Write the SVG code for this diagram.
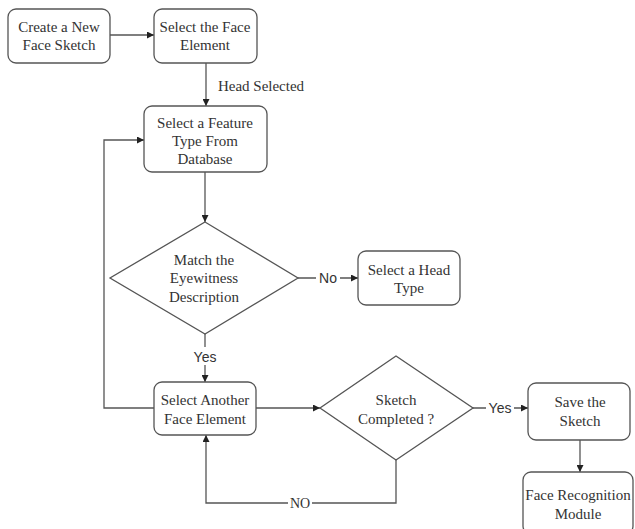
<svg xmlns="http://www.w3.org/2000/svg" width="635" height="529" viewBox="0 0 635 529">
<style>
.box{fill:#fff;stroke:#555;stroke-width:1.3}
.t{font-size:15px;fill:#333;text-anchor:middle}
.s{font-size:14px;fill:#333;text-anchor:middle}
.c{fill:none;stroke:#555;stroke-width:1.3}
.lb{fill:#fff}
</style>
<defs>
<marker id="ah" viewBox="0 0 10 10" refX="10" refY="5" markerWidth="7" markerHeight="7" orient="auto" markerUnits="userSpaceOnUse">
<path d="M0,0 L10,5 L0,10 z" fill="#222"/>
</marker>
</defs>
<rect width="635" height="529" fill="#fff"/>
<g id="connectors">
<path class="c" d="M110,35 H154" marker-end="url(#ah)"/>
<path class="c" d="M206,63 V106" marker-end="url(#ah)"/>
<path class="c" d="M205,172 V222" marker-end="url(#ah)"/>
<path class="c" d="M298,278 H358" marker-end="url(#ah)"/>
<path class="c" d="M205,334 V382" marker-end="url(#ah)"/>
<path class="c" d="M154,408 H104 V140 H144" marker-end="url(#ah)"/>
<path class="c" d="M256,408 H320" marker-end="url(#ah)"/>
<path class="c" d="M473,408 H528" marker-end="url(#ah)"/>
<path class="c" d="M580,440 V472" marker-end="url(#ah)"/>
<path class="c" d="M396,460 V503 H206 V435" marker-end="url(#ah)"/>
<g font-family="Liberation Sans, Arial, sans-serif">
<rect class="lb" x="316" y="268" width="24" height="18"/>
<text class="s" x="328" y="283">No</text>
<rect class="lb" x="192" y="347" width="26" height="18"/>
<text class="s" x="205" y="362">Yes</text>
<rect class="lb" x="486" y="399" width="28" height="18"/>
<text class="s" x="500" y="413">Yes</text>
</g>
<g font-family="Liberation Serif, Times New Roman, serif">
<rect class="lb" x="288" y="495" width="24" height="16"/>
<text class="t" x="300" y="508" style="font-size:14px">NO</text>
<text class="t" x="261" y="91">Head Selected</text>
</g>
</g>
<g font-family="Liberation Serif, Times New Roman, serif">
<g id="n1">
<rect class="box" x="8" y="9" width="102" height="54" rx="8"/>
<text class="t" x="59" y="32">Create a New</text>
<text class="t" x="59" y="50">Face Sketch</text>
</g>
<g id="n2">
<rect class="box" x="154" y="9" width="103" height="54" rx="8"/>
<text class="t" x="205" y="32">Select the Face</text>
<text class="t" x="205" y="50">Element</text>
</g>
<g id="n3">
<rect class="box" x="144" y="106" width="123" height="66" rx="8"/>
<text class="t" x="205" y="128">Select a Feature</text>
<text class="t" x="205" y="146">Type From</text>
<text class="t" x="205" y="164">Database</text>
</g>
<g id="d1">
<polygon class="box" points="205,222 298,278 205,334 110,278"/>
<text class="t" x="204" y="265">Match the</text>
<text class="t" x="204" y="283">Eyewitness</text>
<text class="t" x="204" y="302">Description</text>
</g>
<g id="n4">
<rect class="box" x="358" y="251" width="102" height="54" rx="8"/>
<text class="t" x="409" y="275">Select a Head</text>
<text class="t" x="409" y="293">Type</text>
</g>
<g id="n5">
<rect class="box" x="154" y="382" width="102" height="53" rx="8"/>
<text class="t" x="205" y="405">Select Another</text>
<text class="t" x="205" y="424">Face Element</text>
</g>
<g id="d2">
<polygon class="box" points="396,356 473,408 396,460 320,408"/>
<text class="t" x="396" y="405">Sketch</text>
<text class="t" x="396" y="424">Completed ?</text>
</g>
<g id="n6">
<rect class="box" x="528" y="383" width="102" height="57" rx="8"/>
<text class="t" x="580" y="407">Save the</text>
<text class="t" x="580" y="426">Sketch</text>
</g>
<g id="n7">
<rect class="box" x="523" y="472" width="110" height="62" rx="8"/>
<text class="t" x="578" y="500">Face Recognition</text>
<text class="t" x="578" y="519">Module</text>
</g>
</g>
</svg>
